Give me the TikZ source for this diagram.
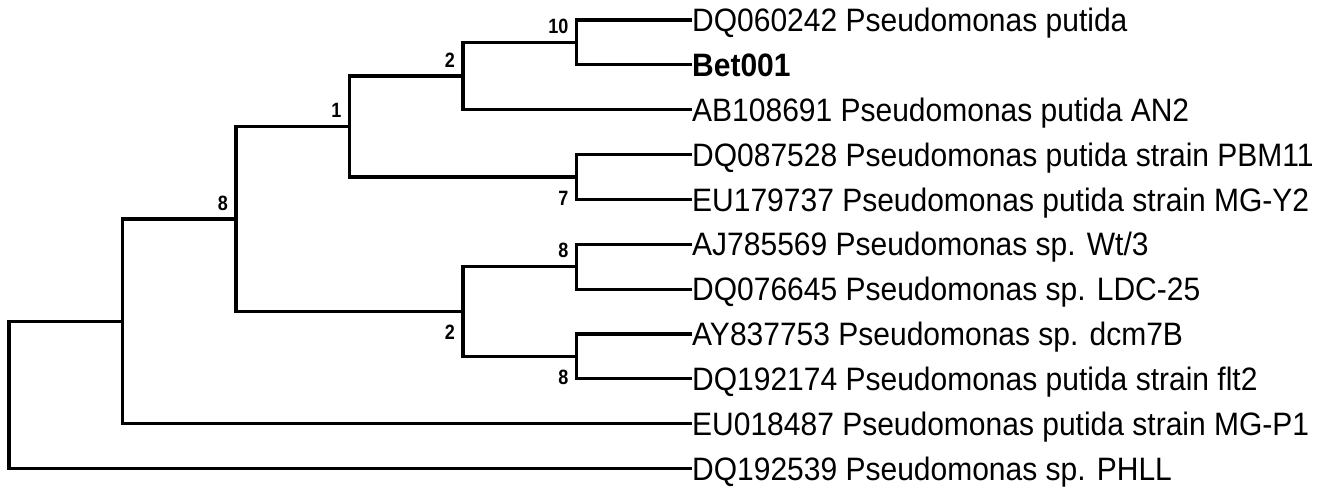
\documentclass[tikz,border=0pt]{standalone}
\usepackage{fontspec}
\setmainfont{Liberation Sans}
\newcommand{\tallleaf}[1]{\scalebox{1}[1.08]{#1}}
\newcommand{\tallboot}[1]{\scalebox{1}[1.15]{#1}}
\begin{document}
\begin{tikzpicture}[x=1pt,y=-1pt,
  branch/.style={line width=3.2pt,black},
  leaf/.style={anchor=west,inner sep=0pt,text height=23.2pt,text depth=0pt,font=\fontsize{30}{36}\selectfont},
  boot/.style={anchor=east,inner sep=0pt,font=\fontsize{18}{20}\selectfont\bfseries}]
\useasboundingbox (0,0) rectangle (1331,488);
% leaves
\node[leaf] (L0) at (692,20) {\tallleaf{DQ060242 Pseudomonas putida}};
\node[leaf] (L1) at (692,64.85) {\tallleaf{\bfseries Bet001}};
\node[leaf] (L2) at (692,109.7) {\tallleaf{AB108691 Pseudomonas putida AN2}};
\node[leaf] (L3) at (692,154.55) {\tallleaf{DQ087528 Pseudomonas putida strain PBM11}};
\node[leaf] (L4) at (692,199.4) {\tallleaf{EU179737 Pseudomonas putida strain MG-Y2}};
\node[leaf] (L5) at (692,244.25) {\tallleaf{AJ785569 Pseudomonas sp. Wt/3}};
\node[leaf] (L6) at (692,289.1) {\tallleaf{DQ076645 Pseudomonas sp. LDC-25}};
\node[leaf] (L7) at (692,333.95) {\tallleaf{AY837753 Pseudomonas sp. dcm7B}};
\node[leaf] (L8) at (692,378.8) {\tallleaf{DQ192174 Pseudomonas putida strain flt2}};
\node[leaf] (L9) at (692,423.65) {\tallleaf{EU018487 Pseudomonas putida strain MG-P1}};
\node[leaf] (L10) at (692,468.5) {\tallleaf{DQ192539 Pseudomonas sp. PHLL}};
% internal nodes
\coordinate (a) at (576.5,42.43);
\coordinate (b) at (463,76.06);
\coordinate (c) at (576.5,176.98);
\coordinate (d) at (349.5,126.52);
\coordinate (e) at (576.5,266.68);
\coordinate (f) at (576.5,356.38);
\coordinate (g) at (463,311.53);
\coordinate (h) at (236,219.02);
\coordinate (i) at (122.5,321.34);
\coordinate (r) at (9,394.92);
% branches
\draw[branch] (L0.west) -| (a) |- (L1.west);
\draw[branch] (a) -| (b) |- (L2.west);
\draw[branch] (L3.west) -| (c) |- (L4.west);
\draw[branch] (b) -| (d) |- (c);
\draw[branch] (L5.west) -| (e) |- (L6.west);
\draw[branch] (L7.west) -| (f) |- (L8.west);
\draw[branch] (e) -| (g) |- (f);
\draw[branch] (d) -| (h) |- (g);
\draw[branch] (h) -| (i) |- (L9.west);
\draw[branch] (i) -| (r) |- (L10.west);
% bootstrap labels
\node[boot] (ba) at ([shift={(-8,-16)}]a) {\tallboot{10}};
\node[boot] (bb) at ([shift={(-8,-16)}]b) {\tallboot{2}};
\node[boot] (bd) at ([shift={(-8,-16)}]d) {\tallboot{1}};
\node[boot] (bc) at ([shift={(-8,21)}]c) {\tallboot{7}};
\node[boot] (bh) at ([shift={(-8,-16)}]h) {\tallboot{8}};
\node[boot] (be) at ([shift={(-8,-16)}]e) {\tallboot{8}};
\node[boot] (bg) at ([shift={(-8,21)}]g) {\tallboot{2}};
\node[boot] (bf) at ([shift={(-8,21)}]f) {\tallboot{8}};
\end{tikzpicture}
\end{document}
